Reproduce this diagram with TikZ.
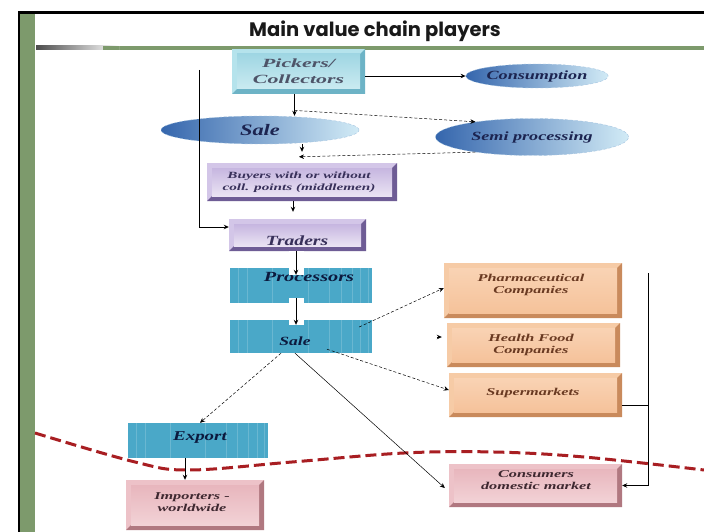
\documentclass[tikz,border=0pt]{standalone}
\usepackage{graphicx}
\usepackage{fontspec}
\setmainfont{Liberation Serif}
\newfontfamily\titlefont{Poppins}
\usetikzlibrary{arrows.meta,calc,shapes.geometric}
\definecolor{framegreen}{HTML}{7D9A6C}
\definecolor{redcurve}{HTML}{A81E22}
\definecolor{tealbox}{HTML}{4AA8C8}
\definecolor{ellL}{HTML}{3566AD}
\definecolor{ellR}{HTML}{D2EBF6}
\definecolor{ellTxt}{HTML}{1C2450}
\definecolor{pickTxt}{HTML}{4E5468}
\definecolor{purTxt}{HTML}{38305A}
\definecolor{navyTxt}{HTML}{0C1A3E}
\definecolor{peachTxt}{HTML}{6A3A22}
\definecolor{roseTxt}{HTML}{3E2830}
\definecolor{pkA}{HTML}{B5E3EC}\definecolor{pkB}{HTML}{6DB3C6}\definecolor{pkC}{HTML}{9FD6E3}\definecolor{pkD}{HTML}{CBEBF1}
\definecolor{puA}{HTML}{D3C6E8}\definecolor{puB}{HTML}{6E5C95}\definecolor{puC}{HTML}{C6B6E0}\definecolor{puD}{HTML}{EAE3F3}
\definecolor{peA}{HTML}{F6CBA6}\definecolor{peB}{HTML}{C98A5C}\definecolor{peC}{HTML}{F9D3B4}\definecolor{peD}{HTML}{F5C29A}
\definecolor{roA}{HTML}{EDC2C8}\definecolor{roB}{HTML}{B07880}\definecolor{roC}{HTML}{E8B6BD}\definecolor{roD}{HTML}{F2D2D6}
\newcommand{\wx}[2][1.5]{\scalebox{#1}[1]{#2}}
\tikzset{
  bevel/.style n args={4}{draw=none, fill=#1, inner sep=0pt,
    path picture={
      \fill[#2] (path picture bounding box.south west) -- (path picture bounding box.south east)
        -- (path picture bounding box.north east) -- ([shift={(-5pt,-5pt)}]path picture bounding box.north east)
        -- ([shift={(-5pt,5pt)}]path picture bounding box.south east) -- ([shift={(5pt,5pt)}]path picture bounding box.south west) -- cycle;
      \fill[top color=#3, bottom color=#4] ([shift={(5pt,-5pt)}]path picture bounding box.north west)
        rectangle ([shift={(-5pt,5pt)}]path picture bounding box.south east);
    }},
  pickbox/.style={bevel={pkA}{pkB}{pkC}{pkD}},
  purbox/.style={bevel={puA}{puB}{puC}{puD}},
  peachbox/.style={bevel={peA}{peB}{peC}{peD}},
  rosebox/.style={bevel={roA}{roB}{roC}{roD}},
  tealb/.style={fill=tealbox, draw=none, inner sep=0pt,
    path picture={
      \foreach \f in {0.06,0.12,0.3,0.55,0.7,0.78,0.86,0.92,0.97}
        \draw[white, opacity=0.18, line width=0.4pt]
          ($(path picture bounding box.south west)!\f!(path picture bounding box.south east)$) --
          ($(path picture bounding box.north west)!\f!(path picture bounding box.north east)$);
    }},
  ellip/.style={ellipse, left color=ellL, right color=ellR, draw=ellR!70!ellL, densely dashed, line width=0.4pt, inner sep=0pt},
  btxt/.style={font=\fontsize{10.5}{12}\selectfont\bfseries\itshape, align=center, inner sep=0pt},
  ln/.style={line width=0.7pt, black},
  arr/.style={ln, -{Stealth[length=5pt,width=4.5pt]}},
  darr/.style={line width=0.5pt, densely dashed, -{Stealth[length=5pt,width=4.5pt]}},
  wback/.style={preaction={draw=white, line width=15pt, arrows=-}}
}
\begin{document}
\begin{tikzpicture}[x=1pt,y=-1pt]
\useasboundingbox (0,0) rectangle (704,532);
\fill[white] (0,0) rectangle (704,532);
% frame
\fill[framegreen] (19,14) rectangle (35,532);
\fill[black] (17.5,11.5) rectangle (704,14.5);
\fill[black] (17.5,11.5) rectangle (20,532);
\fill[framegreen] (119,46) rectangle (704,50.5);
\fill[left color=gray!60!black, right color=white] (36,45.5) rectangle (119,50);
\fill[framegreen] (103,46) rectangle (119,50.5);
\node[font=\titlefont\fontsize{19.5}{22}\selectfont\bfseries, text=black!90] (title) at (375,31) {Main value chain players};

% red dashed curve
\draw[redcurve, line width=3pt, dash pattern=on 11pt off 5pt]
  plot[smooth, tension=0.6] coordinates {(35,433) (135,462) (189,470) (292,462) (404,453) (494,452) (584,457) (704,470)};

% nodes
\node[pickbox, minimum width=133, minimum height=45] (pick) at (298.5,71.5) {};
\node[btxt, font=\fontsize{12.5}{15}\selectfont\bfseries\itshape, text=pickTxt] (pickt) at (298.5,71.5) {\wx[1.75]{Pickers/}\\[1pt]\wx[1.75]{Collectors}};
\node[ellip, minimum width=135, minimum height=24] (cons) at (537,76) {\wx[1.45]{\textbf{\textit{\fontsize{12.5}{14}\selectfont\color{ellTxt}Consumption}}}};
\node[ellip, minimum width=198, minimum height=28] (sale) at (260,130) {\wx[1.4]{\textbf{\textit{\fontsize{16}{18}\selectfont\color{ellTxt}Sale}}}};
\node[ellip, minimum width=193, minimum height=37] (semi) at (532,137) {\wx[1.45]{\textbf{\textit{\fontsize{12.5}{14}\selectfont\color{ellTxt}Semi processing}}}};
\node[purbox, minimum width=190, minimum height=38] (buyers) at (302,182) {};
\node[btxt, font=\fontsize{9.5}{12}\selectfont\bfseries\itshape, text=purTxt] (buyerst) at (299,182) {\wx[1.6]{Buyers with or without}\\\wx[1.6]{coll. points (middlemen)}};
\node[purbox, minimum width=137, minimum height=32] (traders) at (297.5,235) {};
\node[btxt, font=\fontsize{14}{16}\selectfont\bfseries\itshape, text=purTxt] (traderst) at (297,241) {\wx[1.4]{Traders}};
\node[tealb, minimum width=142, minimum height=35] (proc) at (301,285.5) {};
\node[btxt, font=\fontsize{14}{16}\selectfont\bfseries\itshape, text=navyTxt] (proct) at (309,277) {\wx[1.45]{Processors}};
\node[tealb, minimum width=142, minimum height=33] (sale2) at (301,336.5) {};
\node[btxt, font=\fontsize{12.5}{14}\selectfont\bfseries\itshape, text=navyTxt] (sale2t) at (295,341) {\wx[1.4]{Sale}};
\node[peachbox, minimum width=178, minimum height=55] (pharma) at (533,290.5) {};
\node[btxt, text=peachTxt] (pharmat) at (531,285) {\wx[1.55]{Pharmaceutical}\\\wx[1.55]{Companies}};
\node[peachbox, minimum width=173, minimum height=44] (health) at (533.5,345) {};
\node[btxt, text=peachTxt] (healtht) at (531,345) {\wx[1.55]{Health Food}\\\wx[1.55]{Companies}};
\node[peachbox, minimum width=173, minimum height=44] (super) at (535.5,395) {};
\node[btxt, text=peachTxt] (supert) at (533,393) {\wx[1.55]{Supermarkets}};
\node[tealb, minimum width=140, minimum height=35] (export) at (198,440.5) {};
\node[btxt, font=\fontsize{13.5}{15}\selectfont\bfseries\itshape, text=navyTxt] (exportt) at (200,438) {\wx[1.4]{Export}};
\node[rosebox, minimum width=138, minimum height=50] (imp) at (195,505) {};
\node[btxt, text=roseTxt] (impt) at (192,502) {\wx[1.55]{Importers -}\\\wx[1.55]{worldwide}};
\node[rosebox, minimum width=173, minimum height=43] (consum) at (535.5,485.5) {};
\node[btxt, text=roseTxt] (consumt) at (536,480) {\wx[1.55]{Consumers}\\\wx[1.55]{domestic market}};

% connectors
\coordinate (ltop) at (199,70);
\draw[arr] (ltop) |- ([yshift=8pt]traders.west);
\draw[arr] (pick.east |- cons.west) -- (cons.west);
\coordinate (p1) at ([xshift=-4pt]pick.south);
\coordinate (p2) at (p1 |- sale.north);
\coordinate (p3) at ($(p1)!0.75!(p2)$);
\draw[arr] (p1) -- (p2);
\draw[darr] (p3) -- (semi.165);
\draw[arr] (sale.south -| buyers.north) -- ([yshift=11pt]buyers.north);
\draw[darr] (semi.195) -- ([xshift=-3pt,yshift=6pt]buyers.north);
\draw[arr] ([xshift=-9pt]buyers.south) -- ([xshift=-9pt,yshift=7pt]traders.north -| buyers.south);
\draw[arr, wback] ([xshift=-1.5pt]traders.south) -- ([xshift=-1.5pt,yshift=-7pt]traders.south |- proc.north);
\draw[arr, wback] ([xshift=-5pt,yshift=5pt]proc.south) -- ([xshift=-5pt,yshift=-5pt]sale2.north);
\draw[darr] ([xshift=-13pt,yshift=9.5pt]sale2.east) -- ([yshift=2.5pt]pharma.west);
\draw[arr] ([xshift=-10pt,yshift=8pt]health.west) -- ([xshift=-5pt,yshift=8pt]health.west);
\draw[darr] ([xshift=26pt,yshift=4pt]sale2.south) -- ([yshift=5pt]super.west);
\draw[darr] ([xshift=-20pt]sale2.south) -- ([xshift=2pt]export.north);
\draw[arr, line width=0.5pt] ([xshift=-6pt]sale2.south) -- ([xshift=-4pt,yshift=-2.5pt]consum.west);
\coordinate (e1) at ([xshift=-13pt]export.south);
\draw[arr] (e1) -- (e1 |- imp.north);
\coordinate (rtop) at (648,273);
\draw[arr] (rtop) |- (consum.east);
\draw[ln] ([yshift=-10pt]super.east) -- ([yshift=-10pt]super.east -| rtop);
\end{tikzpicture}
\end{document}
